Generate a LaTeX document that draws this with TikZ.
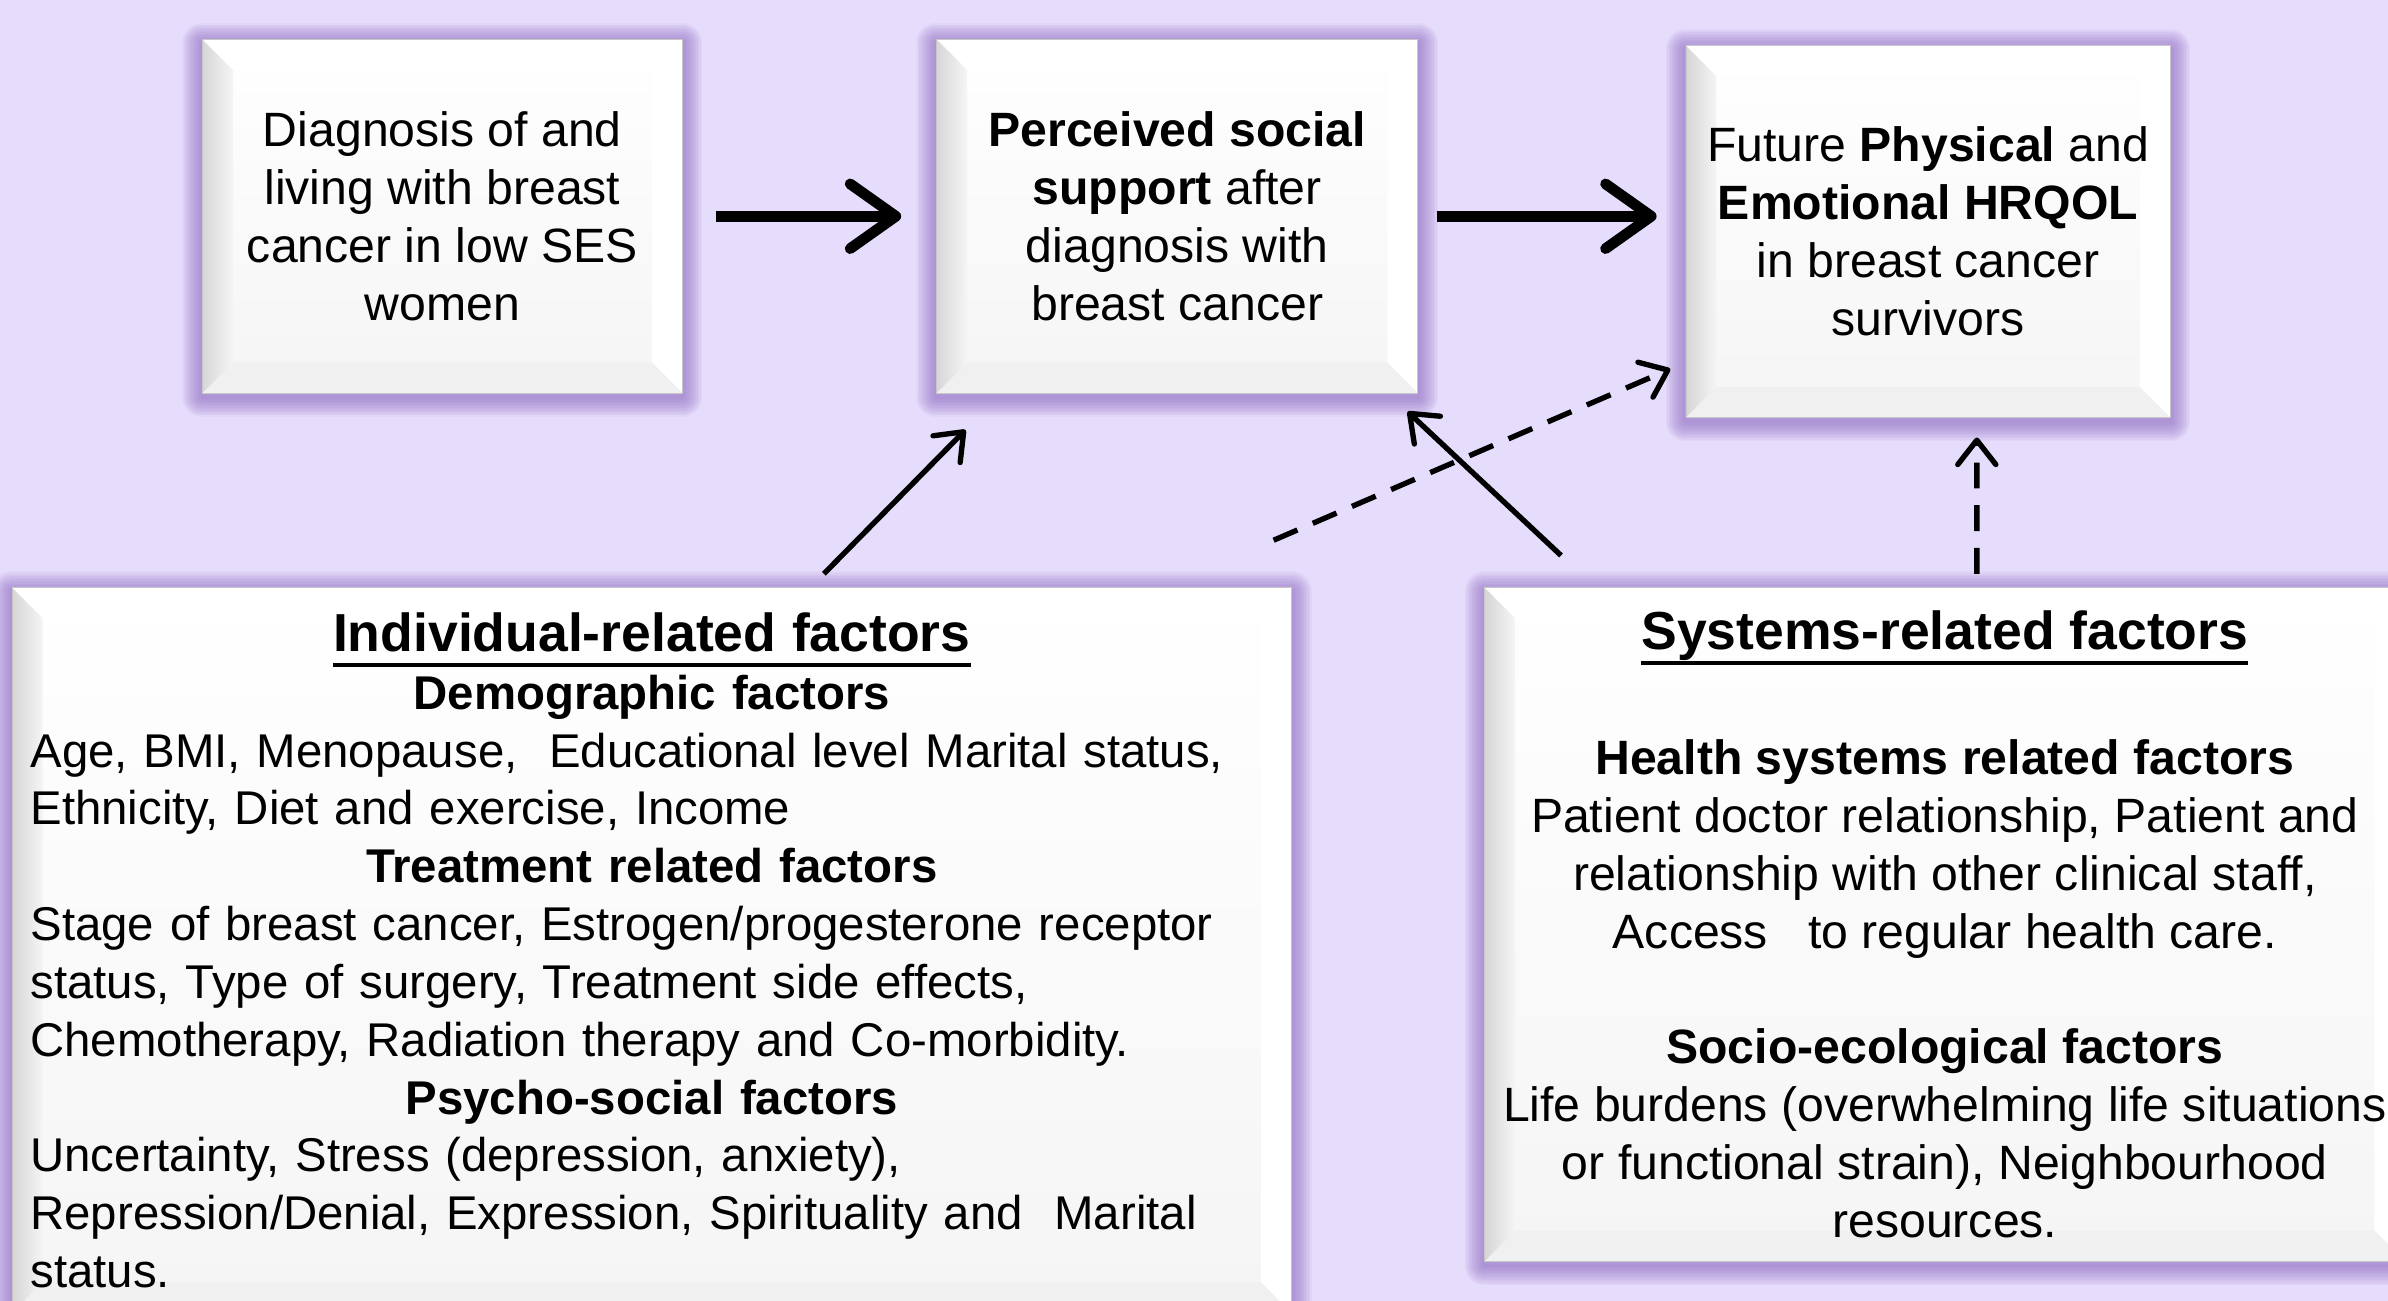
\documentclass[tikz,border=0pt]{standalone}
\usepackage{fontspec}
\setmainfont{Liberation Sans}
\usetikzlibrary{arrows.meta,backgrounds}
\definecolor{lavender}{RGB}{230,220,252}
\definecolor{glowpurple}{RGB}{145,110,195}
% centred line inside a left aligned box
\newcommand\ctrline[1]{\makebox[\hsize][c]{#1}}
% thick underline for the box titles
\newcommand\headline[1]{\setbox0\hbox{\fontsize{20}{21.6}\selectfont\bfseries#1}\rlap{\rule[-5.6pt]{\wd0}{1.4pt}}\box0}
% bevelled face of a box, used as path picture
\newcommand\bevel{%
  \coordinate (bnw) at (path picture bounding box.north west);
  \coordinate (bne) at (path picture bounding box.north east);
  \coordinate (bsw) at (path picture bounding box.south west);
  \coordinate (bse) at (path picture bounding box.south east);
  \shade[top color=white, bottom color=black!4] (bnw) rectangle (bse);
  \fill[white] (bnw) -- (bne) -- ([shift={(-4mm,-4mm)}]bne) -- ([shift={(4mm,-4mm)}]bnw) -- cycle;
  \fill[white] (bne) -- (bse) -- ([shift={(-4mm,4mm)}]bse) -- ([shift={(-4mm,-4mm)}]bne) -- cycle;
  \fill[black!6] (bse) -- (bsw) -- ([shift={(4mm,4mm)}]bsw) -- ([shift={(-4mm,4mm)}]bse) -- cycle;
  \shade[left color=black!16, right color=black!4] (bnw) -- (bsw) -- ([shift={(4mm,4mm)}]bsw) -- ([shift={(4mm,-4mm)}]bnw) -- cycle;
}

\begin{document}
\begin{tikzpicture}[
  x=0.2mm, y=-0.2mm,
  every node/.style={font=\fontsize{18}{21.6}\selectfont},
  factorbox/.style={fill=white, draw=black!22, line width=0.3pt, inner sep=2.4mm,
    path picture={\bevel}},
  glow/.style={draw=glowpurple, draw opacity=.07, line join=round},
  bigarrow/.style={line width=4pt, -{Straight Barb[length=6mm, width=8.5mm, round]}},
  linkarrow/.style={line width=2pt, -{Straight Barb[length=3.2mm, width=5mm, round]}},
  dasharrow/.style={linkarrow, dash pattern=on 3.4mm off 2.2mm}]
\useasboundingbox (0,0) rectangle (1568,854);

\node[factorbox, minimum width=63mm, minimum height=46.4mm, align=center] (diag) at (290.5,142)
  {Diagnosis of and\\living with breast\\cancer in low SES\\women};
\node[factorbox, minimum width=63.2mm, minimum height=46.4mm, align=center] (support) at (773,142)
  {\textbf{Perceived social}\\\textbf{support} after\\diagnosis with\\breast cancer};
\node[factorbox, minimum width=63.6mm, minimum height=48.8mm, align=center] (hrqol) at (1266,152)
  {Future \textbf{Physical} and\\\textbf{Emotional HRQOL}\\in breast cancer\\survivors};

\node[factorbox, minimum width=168mm, minimum height=95.2mm, text width=163.2mm, align=left,
  font=\fontsize{17.7}{21.6}\selectfont] (indiv) at (428,624)
  {\ctrline{\headline{Individual-related factors}}\\
   \ctrline{\textbf{Demographic factors}}\\
   Age, BMI, Menopause,~ Educational level Marital status,\\
   Ethnicity, Diet and exercise, Income\\
   \ctrline{\textbf{Treatment related factors}}\\
   Stage of breast cancer, Estrogen/progesterone receptor\\
   status, Type of surgery, Treatment side effects,\\
   Chemotherapy, Radiation therapy and Co-morbidity.\\
   \ctrline{\textbf{Psycho-social factors}}\\
   Uncertainty, Stress (depression, anxiety),\\
   Repression/Denial, Expression, Spirituality and~ Marital\\
   status.};
\node[factorbox, minimum width=120.8mm, minimum height=88.4mm, align=center] (systems) at (1277,607)
  {\headline{Systems-related factors}\\[8.8mm]
   \textbf{Health systems related factors}\\
   Patient doctor relationship, Patient and\\
   relationship with other clinical staff,\\
   Access~~ to regular health care.\\[7.6mm]
   \textbf{Socio-ecological factors}\\
   Life burdens (overwhelming life situations\\
   or functional strain), Neighbourhood\\
   resources.};

% purple glow round the boxes
\begin{scope}[on background layer]
\fill[lavender] (0,0) rectangle (1568,854);
\foreach \bx in {diag,support,hrqol,indiv,systems}
  \foreach \w in {0.4,0.8,...,5.6}
    \draw[glow, line width=\w mm] ([yshift=-0.5mm]\bx.north west) rectangle ([yshift=-0.5mm]\bx.south east);
\end{scope}

\draw[bigarrow, shorten <=4.4mm, shorten >=4.6mm] (diag) -- (support);
\draw[bigarrow, shorten <=2.4mm, shorten >=3.8mm] (support) -- (support -| hrqol.west);
\draw[linkarrow] ([xshift=22.6mm, yshift=1.8mm]indiv.north) -- ([xshift=-27.8mm, yshift=-4.8mm]support.south);
\draw[linkarrow] ([xshift=-50.4mm, yshift=4.2mm]systems.north) -- ([xshift=-1.4mm, yshift=-2.4mm]support.south east);
\draw[dasharrow] ([xshift=-2.4mm, yshift=6.2mm]indiv.north east) -- ([xshift=-2mm, yshift=6.4mm]hrqol.south west);
\draw[dasharrow] ([xshift=4.2mm, yshift=1.8mm]systems.north) -- ([xshift=6.4mm, yshift=-2.6mm]hrqol.south);
\end{tikzpicture}
\end{document}
